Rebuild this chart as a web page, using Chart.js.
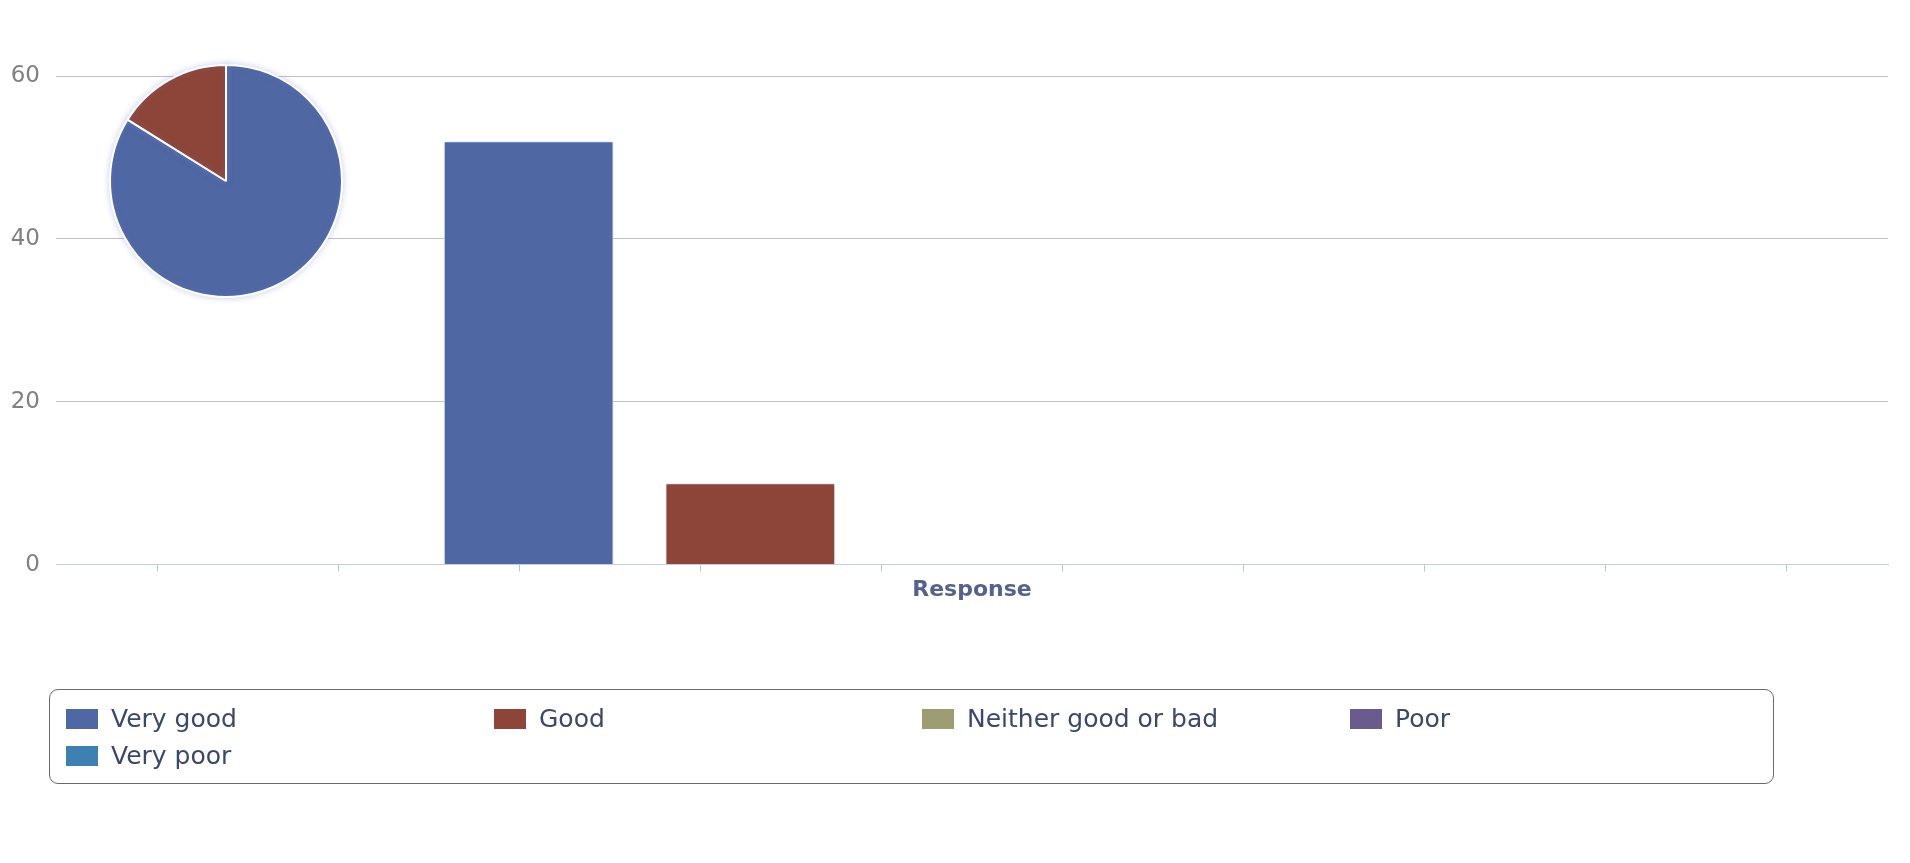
<!DOCTYPE html>
<html>
<head>
<meta charset="utf-8">
<title>Response</title>
<script src="https://cdn.jsdelivr.net/npm/chart.js@4.4.1/dist/chart.umd.min.js"></script>
<style>
  html, body { margin: 0; padding: 0; background: #ffffff; }
  body { width: 1910px; height: 863px; position: relative; overflow: hidden; font-family: "DejaVu Sans", Verdana, sans-serif; }
  #barWrap { position: absolute; left: 0; top: 0; width: 1910px; height: 863px; }
  #pieWrap { position: absolute; left: 91px; top: 46px; width: 270px; height: 270px; }
  #legend {
    position: absolute; left: 49px; top: 689px; width: 1725px; height: 95px;
    border: 1.5px solid #6a6a6a; border-radius: 9px;
    box-sizing: border-box; padding: 10px 0 0 16px;
    display: grid; grid-template-columns: repeat(4, 428px); grid-auto-rows: 37px;
  }
  .item { display: flex; align-items: center; color: #3c4868; font-size: 25px; white-space: nowrap; }
  .swatch { width: 32px; height: 20px; margin-right: 13px; flex: none; }
</style>
</head>
<body>
<div id="barWrap"><canvas id="bars" width="1910" height="863"></canvas></div>
<div id="pieWrap"><canvas id="pie" width="270" height="270"></canvas></div>
<div id="legend"></div>
<script>
// Survey answers for the single "Response" category
const categories = ['Response'];
const seriesNames = ['Very good', 'Good', 'Neither good or bad', 'Poor', 'Very poor'];
const seriesValues = [52, 10, 0, 0, 0];
const seriesColors = ['#4f67a3', '#8c4538', '#9c9d72', '#6a5b8f', '#3f80b3'];
const yTickValues = [0, 20, 40, 60];
const xTickMarks = [-4, -3, -2, -1, 0, 1, 2, 3, 4];

const FONT = '"DejaVu Sans", Verdana, sans-serif';

// soft halo behind bars and slices
const haloPlugin = {
  id: 'halo',
  beforeDatasetsDraw(chart) {
    const c = chart.ctx;
    c.save();
    c.shadowColor = 'rgba(120, 135, 210, 0.35)';
    c.shadowBlur = 6;
  },
  afterDatasetsDraw(chart) { chart.ctx.restore(); }
};

new Chart(document.getElementById('bars'), {
  type: 'bar',
  data: {
    labels: categories,
    datasets: seriesNames.map((name, i) => ({
      label: name,
      data: [seriesValues[i]],
      xAxisID: 'x',
      yAxisID: 'y',
      backgroundColor: seriesColors[i],
      borderColor: '#ffffff',
      borderWidth: 1,
      categoryPercentage: 0.605,
      barPercentage: 0.766
    }))
  },
  options: {
    responsive: false,
    animation: false,
    events: [],
    layout: { padding: { left: 0, right: 22, top: 76, bottom: 256 } },
    plugins: { legend: { display: false }, tooltip: { enabled: false } },
    scales: {
      x: {
        position: 'bottom', weight: 1,
        grid: { display: false },
        border: { display: false },
        ticks: { color: '#55628c', font: { family: FONT, size: 22, weight: 'bold' }, padding: 4 }
      },
      // tick-mark strip along the baseline
      xt: {
        type: 'linear', position: 'bottom', weight: 0,
        min: -4.5, max: 4.5,
        afterBuildTicks(scale) { scale.ticks = xTickMarks.map(v => ({ value: v })); },
        afterFit(scale) { scale.height = 0; },
        ticks: { display: false },
        grid: { drawOnChartArea: false, drawTicks: true, tickLength: 7, color: '#b9c6d8' },
        border: { display: true, color: '#c0d0e0', width: 1 }
      },
      y: {
        min: 0, max: 60,
        afterBuildTicks(scale) { scale.ticks = yTickValues.map(v => ({ value: v })); },
        afterFit(scale) { scale.width = 56; },
        ticks: { color: '#808080', font: { family: FONT, size: 23 }, padding: 16 },
        grid: {
          drawTicks: false,
          color: (ctx) => (ctx.tick && ctx.tick.value === 0) ? 'rgba(0,0,0,0)' : '#c2c2c2'
        },
        border: { display: false }
      }
    }
  },
  plugins: [haloPlugin]
});

new Chart(document.getElementById('pie'), {
  type: 'pie',
  data: {
    labels: seriesNames,
    datasets: [{
      data: seriesValues,
      backgroundColor: seriesColors,
      borderColor: '#ffffff',
      borderWidth: 2
    }]
  },
  options: {
    responsive: false,
    animation: false,
    events: [],
    radius: 116,
    plugins: { legend: { display: false }, tooltip: { enabled: false } }
  },
  plugins: [haloPlugin]
});

// legend box
const legend = document.getElementById('legend');
seriesNames.forEach((name, i) => {
  const item = document.createElement('div');
  item.className = 'item';
  const sw = document.createElement('span');
  sw.className = 'swatch';
  sw.style.background = seriesColors[i];
  const txt = document.createElement('span');
  txt.textContent = name;
  item.appendChild(sw);
  item.appendChild(txt);
  legend.appendChild(item);
});
</script>
</body>
</html>
